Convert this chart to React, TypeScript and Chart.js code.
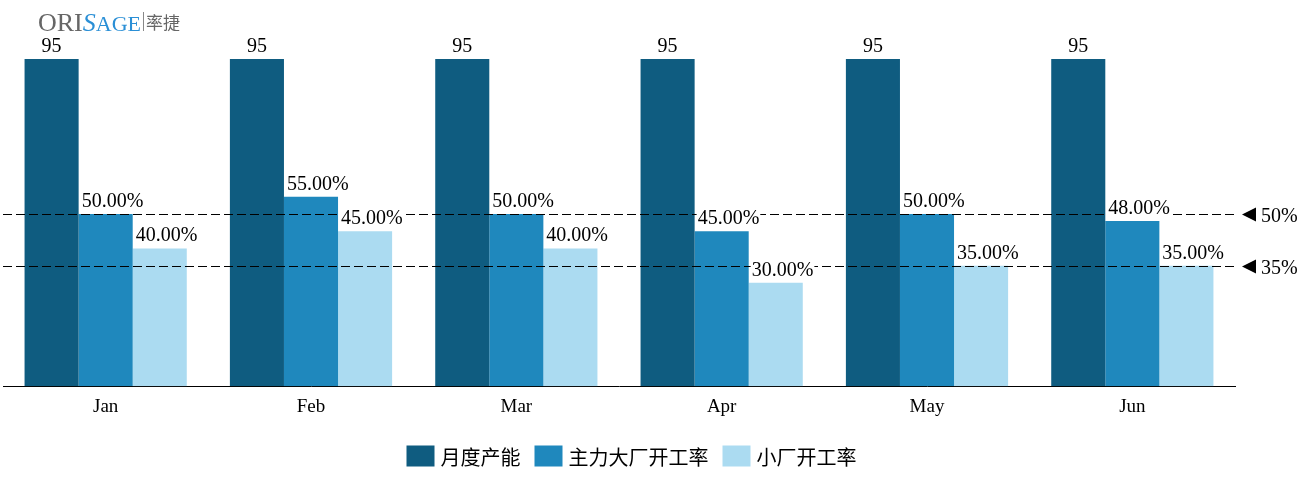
import React, { useEffect, useRef } from "react";
import { Chart, registerables } from "chart.js";

Chart.register(...registerables);

const categories = ["Jan", "Feb", "Mar", "Apr", "May", "Jun"];
const monthlyCapacity = [95, 95, 95, 95, 95, 95];
const majorPlantRate = [50, 55, 50, 45, 50, 48];
const smallPlantRate = [40, 45, 40, 30, 35, 35];
const seriesNames = ["月度产能", "主力大厂开工率", "小厂开工率"];
const seriesColors = ["#0f5c80", "#1f88bd", "#abdbf1"];
const referenceLines = [50, 35];
const referenceLabels = ["50%", "35%"];

const SERIF = '"Liberation Serif", "Times New Roman", serif';
const CJK = '"Noto Sans CJK SC", "Noto Sans", sans-serif';

const overlayPlugin = {
  id: "overlay",
  afterDatasetsDraw(chart: any) {
    const ctx = chart.ctx as CanvasRenderingContext2D;
    const area = chart.chartArea;
    const yScale = chart.scales.y;

    // reference dashed lines
    ctx.save();
    ctx.strokeStyle = "#000";
    ctx.lineWidth = 1;
    referenceLines.forEach((v, i) => {
      const y = Math.round(yScale.getPixelForValue(v)) + 0.5;
      ctx.setLineDash([9, 4]);
      ctx.beginPath();
      ctx.moveTo(area.left, y);
      ctx.lineTo(area.right, y);
      ctx.stroke();
      // marker
      ctx.setLineDash([]);
      ctx.fillStyle = "#000";
      ctx.beginPath();
      ctx.moveTo(area.right + 7, y);
      ctx.lineTo(area.right + 21, y - 7);
      ctx.lineTo(area.right + 21, y + 7);
      ctx.closePath();
      ctx.fill();
      ctx.font = `20px ${SERIF}`;
      ctx.textAlign = "left";
      ctx.textBaseline = "alphabetic";
      ctx.fillText(referenceLabels[i], area.right + 26, y + 7);
    });
    ctx.restore();

    // data labels
    ctx.save();
    ctx.font = `20px ${SERIF}`;
    ctx.textBaseline = "alphabetic";
    chart.data.datasets.forEach((ds: any, di: number) => {
      const meta = chart.getDatasetMeta(di);
      meta.data.forEach((el: any, i: number) => {
        const v = ds.data[i];
        const text = di === 0 ? String(v) : v.toFixed(2) + "%";
        const w = ctx.measureText(text).width;
        const barLeft = el.x - el.width / 2;
        const x = di === 0 ? el.x - w / 2 : barLeft + 3;
        const baseY = el.y - 7;
        ctx.fillStyle = "#fff";
        ctx.fillRect(x - 1, baseY - 16, w + 2, 20);
        ctx.fillStyle = "#000";
        ctx.textAlign = "left";
        ctx.fillText(text, x, baseY);
      });
    });
    ctx.restore();

    // legend
    ctx.save();
    ctx.font = `20px ${CJK}`;
    ctx.textBaseline = "middle";
    ctx.textAlign = "left";
    const boxW = 28;
    const boxH = 21;
    const gapText = 6;
    const gapItem = 14;
    const widths = seriesNames.map((n) => boxW + gapText + ctx.measureText(n).width);
    const total = widths.reduce((a, b) => a + b, 0) + gapItem * (seriesNames.length - 1);
    let lx = chart.width / 2 - 20 - total / 2;
    const ly = 456;
    seriesNames.forEach((n, i) => {
      ctx.fillStyle = seriesColors[i];
      ctx.fillRect(lx, ly - boxH / 2, boxW, boxH);
      ctx.fillStyle = "#000";
      ctx.fillText(n, lx + boxW + gapText, ly + 1);
      lx += widths[i] + gapItem;
    });
    ctx.restore();

    // logo
    ctx.save();
    ctx.textBaseline = "alphabetic";
    ctx.textAlign = "left";
    ctx.fillStyle = "#666";
    ctx.font = `26px ${SERIF}`;
    ctx.fillText("ORI", 38, 31);
    const oriW = ctx.measureText("ORI").width;
    ctx.fillStyle = "#2a8fd6";
    ctx.font = `italic 26px ${SERIF}`;
    ctx.fillText("S", 38 + oriW, 31);
    const sW = ctx.measureText("S").width;
    ctx.font = `22px ${SERIF}`;
    ctx.fillText("AGE", 38 + oriW + sW, 31);
    const ageW = ctx.measureText("AGE").width;
    const bx = 38 + oriW + sW + ageW + 2;
    ctx.fillStyle = "#888";
    ctx.fillRect(bx, 12, 1, 19);
    ctx.fillStyle = "#666";
    ctx.font = `17px ${CJK}`;
    ctx.fillText("率捷", bx + 3, 29);
    ctx.restore();
  },
};

export default function App() {
  const ref = useRef<HTMLCanvasElement | null>(null);
  useEffect(() => {
    if (!ref.current) return;
    const chart = new Chart(ref.current, {
      type: "bar",
      data: {
        labels: categories,
        datasets: [
          { label: seriesNames[0], data: monthlyCapacity, backgroundColor: seriesColors[0] },
          { label: seriesNames[1], data: majorPlantRate, backgroundColor: seriesColors[1] },
          { label: seriesNames[2], data: smallPlantRate, backgroundColor: seriesColors[2] },
        ],
      },
      options: {
        animation: false,
        responsive: false,
        maintainAspectRatio: false,
        layout: { padding: { left: 3, right: 68, top: 59, bottom: 50 } },
        datasets: {
          bar: { categoryPercentage: 0.79, barPercentage: 1 },
        },
        plugins: {
          legend: { display: false },
          tooltip: { enabled: false },
        },
        scales: {
          x: {
            grid: { display: false, drawTicks: false },
            border: { display: true, color: "#000", width: 1 },
            ticks: { color: "#000", font: { family: SERIF, size: 19 }, padding: 9 },
          },
          y: {
            display: false,
            min: 0,
            max: 95,
          },
        },
      },
      plugins: [overlayPlugin],
    });
    return () => chart.destroy();
  }, []);
  return (
    <div style={{ position: "absolute", left: 0, top: 0, width: 1303, height: 477 }}>
      <canvas ref={ref} width={1303} height={477} style={{ width: 1303, height: 477 }} />
    </div>
  );
}
